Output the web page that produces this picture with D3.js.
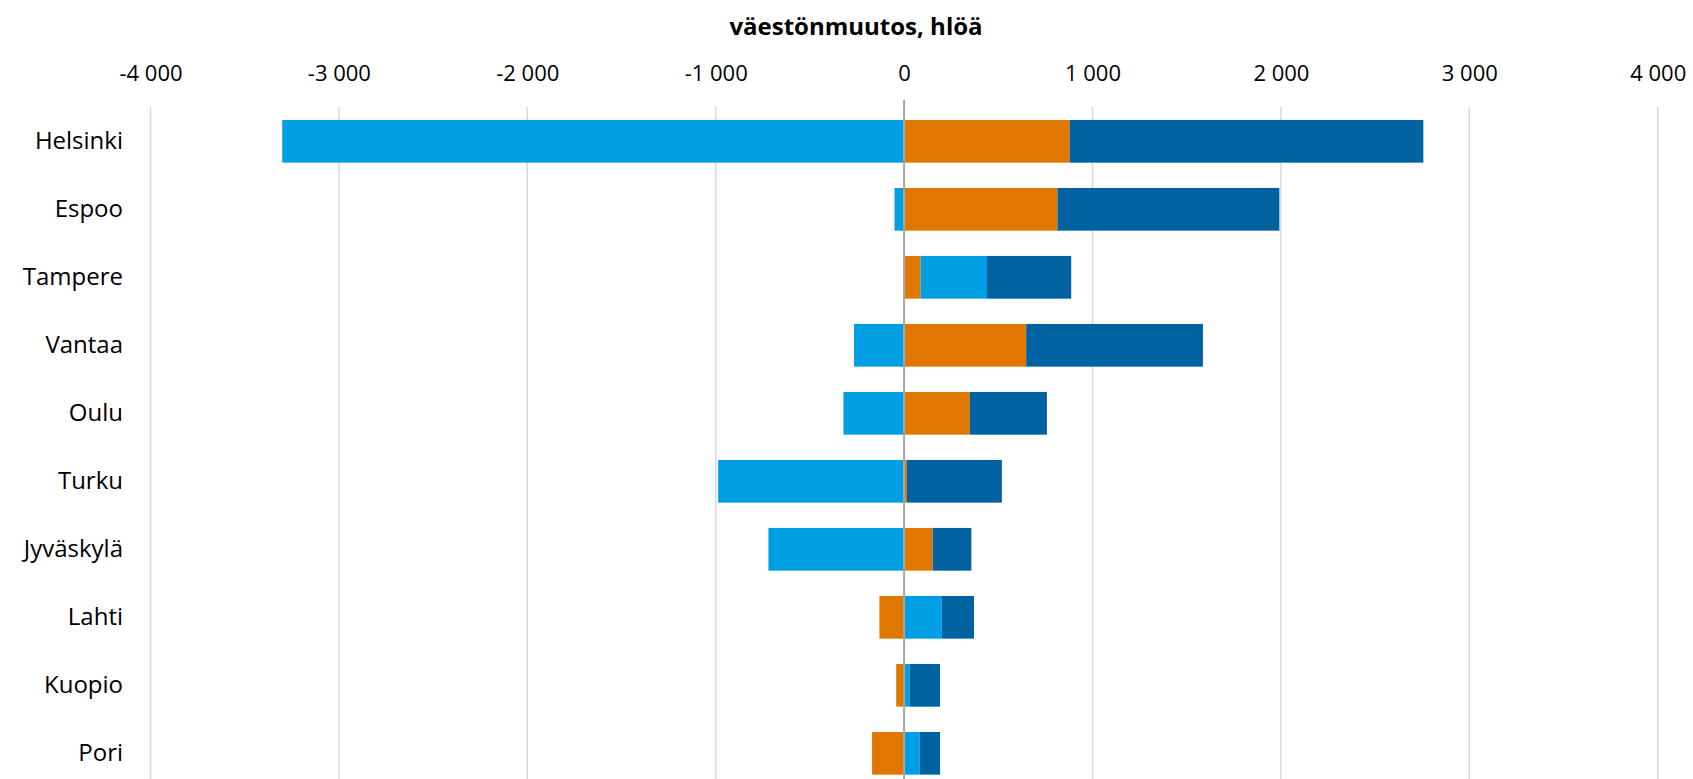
<!DOCTYPE html>
<html>
<head>
<meta charset="utf-8">
<script src="https://cdn.jsdelivr.net/npm/d3@7/dist/d3.min.js"></script>
<style>
  html, body { margin: 0; padding: 0; background: #fff; }
  svg { display: block; }
  text { font-family: "Open Sans", "Noto Sans", sans-serif; fill: #000; }
</style>
</head>
<body>
<svg id="chart" width="1693" height="779"></svg>
<script>
const categories = ["Helsinki", "Espoo", "Tampere", "Vantaa", "Oulu", "Turku", "Jyväskylä", "Lahti", "Kuopio", "Pori"];
const seriesNames = ["Luonnollinen väestönlisäys", "Kuntien välinen nettomuutto", "Nettomaahanmuutto"];
const naturalIncrease = [879, 814, 87, 648, 349, 15, 152, -131, -42, -170];
const netMigration    = [-3301, -51, 353, -266, -322, -987, -720, 200, 30, 83];
const netImmigration  = [1877, 1178, 447, 938, 409, 504, 205, 171, 161, 108];
const tickValues = [-4000, -3000, -2000, -1000, 0, 1000, 2000, 3000, 4000];
const axisTitle = "väestönmuutos, hlöä";
const colors = ["#E07800", "#009FE3", "#0062A1"];

const svg = d3.select("#chart");
const W = 1693, H = 779;

const x = d3.scaleLinear().domain([-4000, 4000]).range([150.5, 1657.7]);
const y = d3.scaleBand().domain(categories).range([107.3, 787.3]).paddingInner(0.372).paddingOuter(0.186);

const table = categories.map((c, i) => ({
  city: c,
  [seriesNames[0]]: naturalIncrease[i],
  [seriesNames[1]]: netMigration[i],
  [seriesNames[2]]: netImmigration[i]
}));

const stack = d3.stack().keys(seriesNames).offset(d3.stackOffsetDiverging);
const layers = stack(table);

// gridlines
svg.append("g")
  .selectAll("line")
  .data(tickValues.filter(v => v !== 0))
  .join("line")
  .attr("x1", d => x(d)).attr("x2", d => x(d))
  .attr("y1", 107).attr("y2", H)
  .attr("stroke", "#d9d9d9").attr("stroke-width", 1.5);

// bars
svg.append("g")
  .selectAll("g")
  .data(layers)
  .join("g")
  .attr("fill", (d, i) => colors[i])
  .selectAll("rect")
  .data(d => d)
  .join("rect")
  .attr("x", d => x(Math.min(d[0], d[1])))
  .attr("width", d => Math.abs(x(d[1]) - x(d[0])))
  .attr("y", d => y(d.data.city))
  .attr("height", y.bandwidth());

// zero line
svg.append("line")
  .attr("x1", x(0)).attr("x2", x(0))
  .attr("y1", 100).attr("y2", H)
  .attr("stroke", "#a6a6a6").attr("stroke-width", 2);

// top axis labels
const fmt = d => (d < 0 ? "-" : "") + d3.format(",")(Math.abs(d)).replace(/,/g, " ");
const xAxis = d3.axisTop(x).tickValues(tickValues).tickSize(0).tickFormat(fmt);
const gx = svg.append("g").attr("transform", "translate(0,84)").call(xAxis);
gx.select(".domain").remove();
gx.selectAll("text").attr("font-size", 22).attr("font-family", '"Open Sans", sans-serif').attr("fill", "#000");

// y axis labels
const yAxis = d3.axisLeft(y).tickSize(0).tickPadding(0);
const gy = svg.append("g").attr("transform", "translate(123,0)").call(yAxis);
gy.select(".domain").remove();
gy.selectAll("text").attr("font-size", 24).attr("font-family", '"Open Sans", sans-serif').attr("fill", "#000");

// title
svg.append("text")
  .attr("x", 856).attr("y", 35)
  .attr("text-anchor", "middle")
  .attr("font-size", 24).attr("font-weight", "bold")
  .text(axisTitle);
</script>
</body>
</html>
